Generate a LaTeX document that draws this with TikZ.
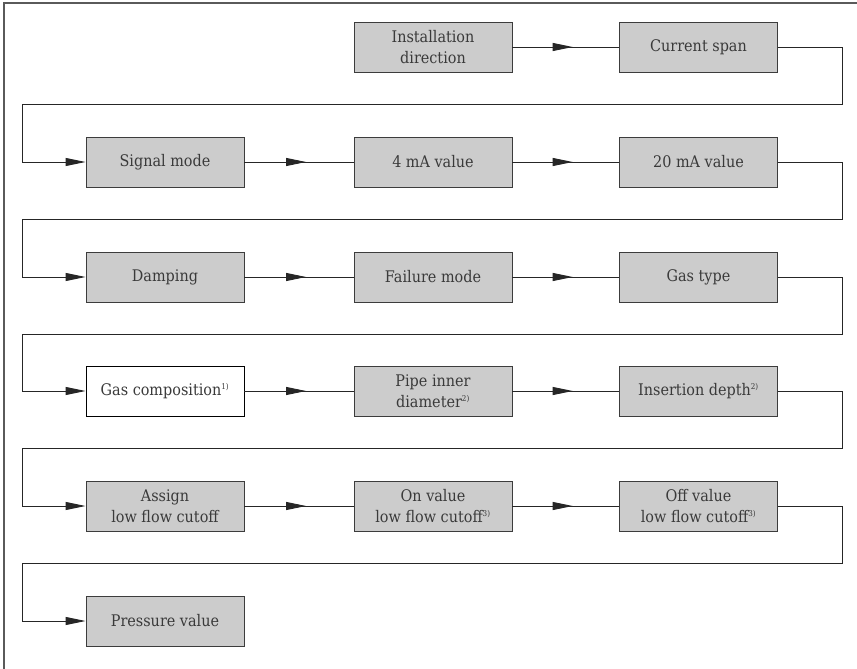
\documentclass[tikz,border=0pt]{standalone}
\usepackage{fontspec}
\setmainfont{DejaVu Serif}[FakeStretch=0.9]
\usetikzlibrary{calc}
\usetikzlibrary{arrows.meta}
\usetikzlibrary{decorations.markings}
\definecolor{boxfill}{HTML}{CCCCCC}
\definecolor{boxline}{HTML}{3C3C3C}
\definecolor{textgray}{HTML}{3A3A3A}
\definecolor{framegray}{HTML}{5A5A5A}
\tikzset{
  stepbox/.style={draw=boxline, fill=boxfill, line width=0.9pt, minimum width=158pt, minimum height=50pt, inner sep=2pt, align=center, text=textgray, font=\fontsize{16}{21}\selectfont},
  whitebox/.style={stepbox, fill=white, draw=black},
  flow/.style={line width=0.9pt, draw=black!85, postaction={decorate}, decoration={markings, mark=at position 0.565 with {\arrow{Triangle[length=20pt,width=8pt]}}}},
  back/.style={line width=0.9pt, draw=black!85, -{Triangle[length=20pt,width=8pt]}}
}
\newcommand{\stepnode}[4]{\node[stepbox] (#1) at ( #2 , #3 ) {#4};}
\newcommand{\supnote}[1]{\textsuperscript{\fontsize{8}{8}\selectfont #1}}

\begin{document}
\begin{tikzpicture}[x=1pt,y=-1pt]
\useasboundingbox (0,0) rectangle (857,669);
% frame
\draw[framegray, line width=1.6pt] (4,669) -- (4,3) -- (857,3);
% row 1 of steps
\stepnode{inst}{433}{47}{Installation\\direction}
\stepnode{span}{698.5}{47}{Current span}
% row 2
\stepnode{sig}{165}{162}{Signal mode}
\stepnode{fourma}{433}{162}{4 mA value}
\stepnode{twentyma}{698.5}{162}{20 mA value}
% row 3
\stepnode{damp}{165}{277}{Damping}
\stepnode{fail}{433}{277}{Failure mode}
\stepnode{gtype}{698.5}{277}{Gas type}
% row 4
\node[whitebox] (gcomp) at (165,391) {Gas composition\supnote{1)}};
\stepnode{pipe}{433}{391}{Pipe inner\\diameter\supnote{2)}}
\stepnode{depth}{698.5}{391}{Insertion depth\supnote{2)}}
% row 5
\stepnode{assign}{165}{506}{Assign\\low flow cutoff}
\stepnode{onval}{433}{506}{On value\\low flow cutoff\supnote{3)}}
\stepnode{offval}{698.5}{506}{Off value\\low flow cutoff\supnote{3)}}
% row 6
\stepnode{press}{165}{621}{Pressure value}
% left and right turning lines
\coordinate (lx) at (22,0);
\coordinate (rx) at (842,0);
% arrows inside the rows
\draw[flow] (inst) -- (span);
\draw[flow] (sig) -- (fourma);
\draw[flow] (fourma) -- (twentyma);
\draw[flow] (damp) -- (fail);
\draw[flow] (fail) -- (gtype);
\draw[flow] (gcomp) -- (pipe);
\draw[flow] (pipe) -- (depth);
\draw[flow] (assign) -- (onval);
\draw[flow] (onval) -- (offval);
% turns down to the next row
\coordinate (g1) at ($(span.south)!0.5!(sig.north)$);
\draw[back] (span.east) -| (rx |- g1) -| (lx |- sig) -- (sig.west);
\coordinate (g2) at ($(twentyma.south)!0.5!(damp.north)$);
\draw[back] (twentyma.east) -| (rx |- g2) -| (lx |- damp) -- (damp.west);
\coordinate (g3) at ($(gtype.south)!0.5!(gcomp.north)$);
\draw[back] (gtype.east) -| (rx |- g3) -| (lx |- gcomp) -- (gcomp.west);
\coordinate (g4) at ($(depth.south)!0.5!(assign.north)$);
\draw[back] (depth.east) -| (rx |- g4) -| (lx |- assign) -- (assign.west);
\coordinate (g5) at ($(offval.south)!0.5!(press.north)$);
\draw[back] (offval.east) -| (rx |- g5) -| (lx |- press) -- (press.west);
\end{tikzpicture}
\end{document}
